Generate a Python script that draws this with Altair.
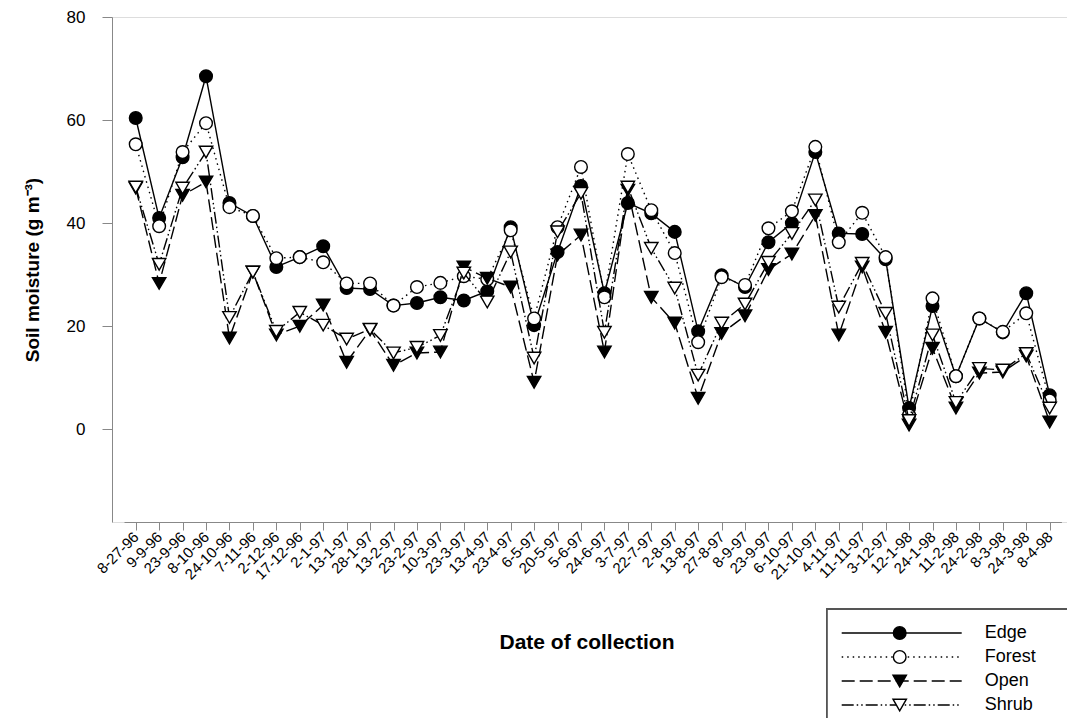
import altair as alt
import pandas as pd

dates = ["8-27-96", "9-9-96", "23-9-96", "8-10-96", "24-10-96", "7-11-96", "2-12-96",
         "17-12-96", "2-1-97", "13-1-97", "28-1-97", "13-2-97", "23-2-97", "10-3-97",
         "23-3-97", "13-4-97", "23-4-97", "6-5-97", "20-5-97", "5-6-97", "24-6-97",
         "3-7-97", "22-7-97", "2-8-97", "13-8-97", "27-8-97", "8-9-97", "23-9-97",
         "6-10-97", "21-10-97", "4-11-97", "11-11-97", "3-12-97", "12-1-98", "24-1-98",
         "11-2-98", "24-2-98", "8-3-98", "24-3-98", "8-4-98"]

series = ["Edge", "Forest", "Open", "Shrub"]

edge = [60.4, 41.0, 52.8, 68.5, 43.9, 41.4, 31.5, 33.4, 35.5, 27.4,
        27.2, 24.0, 24.5, 25.6, 25.0, 26.8, 39.2, 20.2, 34.4, 47.2,
        26.4, 43.9, 41.9, 38.3, 19.0, 29.9, 27.6, 36.3, 40.0, 53.8,
        38.0, 37.9, 33.0, 4.1, 23.9, 10.3, 21.5, 18.8, 26.4, 6.6]

forest = [55.3, 39.4, 53.8, 59.4, 43.1, 41.4, 33.2, 33.4, 32.4, 28.3,
          28.3, 24.0, 27.6, 28.4, 29.7, 29.1, 38.6, 21.5, 39.2, 50.9,
          25.6, 53.4, 42.5, 34.2, 16.9, 29.5, 28.0, 39.0, 42.3, 54.8,
          36.3, 42.0, 33.4, 2.7, 25.4, 10.3, 21.5, 18.9, 22.5, 5.6]

open_ = [46.8, 28.3, 45.4, 48.0, 17.7, 30.5, 18.3, 20.0, 24.1, 13.0,
         19.3, 12.4, 14.8, 15.0, 31.5, 29.3, 27.6, 9.1, 33.8, 37.7,
         15.0, 46.4, 25.6, 20.6, 6.0, 18.6, 22.0, 31.0, 34.0, 41.5,
         18.3, 31.5, 18.8, 0.8, 15.7, 4.1, 10.9, 11.1, 14.2, 1.4]

shrub = [47.0, 32.0, 46.8, 53.8, 21.7, 30.5, 19.0, 22.7, 20.2, 17.5,
         19.4, 14.8, 15.9, 18.2, 30.3, 24.7, 34.4, 13.8, 38.3, 45.8,
         18.8, 47.0, 35.1, 27.4, 10.5, 20.6, 24.3, 32.4, 38.0, 44.5,
         23.7, 32.2, 22.5, 1.7, 18.3, 5.2, 11.8, 11.5, 14.7, 4.1]

values = {"Edge": edge, "Forest": forest, "Open": open_, "Shrub": shrub}

rows = []
for s in series:
    for d, v in zip(dates, values[s]):
        rows.append({"date": d, "series": s, "value": v})
df = pd.DataFrame(rows)
leg_df = pd.DataFrame({"series": series})

FONT = "Liberation Sans"
styles = {
    "Edge": dict(dash=None, shape="circle", fill="black", size=160),
    "Forest": dict(dash=[1.5, 4], shape="circle", fill="white", size=160),
    "Open": dict(dash=[13, 5], shape="triangle-down", fill="black", size=180),
    "Shrub": dict(dash=[12, 3, 1.5, 3, 1.5, 3], shape="triangle-down", fill="white", size=180),
}

x_enc = alt.X(
    "date:N", sort=dates,
    scale=alt.Scale(type="point", range=[12, 949.4], padding=0.5),
    axis=alt.Axis(title="Date of collection", labelAngle=-45, labelAlign="right",
                  labelBaseline="middle", labelFontSize=15, labelPadding=4,
                  labelOverlap=False, tickSize=8, titleFontSize=21, grid=False,
                  titleFontWeight="bold", titleY=126, titleX=474.5,
                  titleBaseline="alphabetic"),
)
y_enc = alt.Y(
    "value:Q",
    scale=alt.Scale(domain=[-18, 80], nice=False, zero=False),
    axis=alt.Axis(title="Soil moisture (g m\u207b\u00b3)", values=[0, 20, 40, 60, 80],
                  labelFontSize=17, labelPadding=17, tickSize=10, titleFontSize=19,
                  titleFontWeight="bold", titleX=-70, grid=False),
)

data_layers = []
for s in series:
    st = styles[s]
    base = alt.Chart(df).transform_filter(alt.datum.series == s)
    line_kw = dict(color="black", strokeWidth=1.4)
    if st["dash"] is not None:
        line_kw["strokeDash"] = st["dash"]
    line = base.mark_line(**line_kw).encode(x=x_enc, y=y_enc)
    pts = base.mark_point(shape=st["shape"], filled=True, fill=st["fill"], stroke="black",
                          strokeWidth=1.4, size=st["size"], opacity=1).encode(x=x_enc, y=y_enc)
    data_layers += [line, pts]

ly = alt.Y("series:N", sort=series,
           scale=alt.Scale(domain=series, range=[604, 700]), axis=None)

legend_layers = [
    alt.Chart(leg_df).mark_rect(filled=False, stroke="#555555", strokeWidth=1.3).encode(
        x=alt.value(714.7), x2=alt.value(1200), y=alt.value(592), y2=alt.value(900))
]
for s in series:
    st = styles[s]
    base = alt.Chart(leg_df).transform_filter(alt.datum.series == s)
    rule_kw = dict(color="black", strokeWidth=1.4)
    if st["dash"] is not None:
        rule_kw["strokeDash"] = st["dash"]
    legend_layers.append(base.mark_rule(**rule_kw).encode(
        x=alt.value(729.7), x2=alt.value(849.7), y=ly))
    legend_layers.append(base.mark_point(shape=st["shape"], filled=True, fill=st["fill"],
                                         stroke="black", strokeWidth=1.4, size=st["size"],
                                         opacity=1).encode(x=alt.value(787.7), y=ly))
legend_layers.append(alt.Chart(leg_df).mark_text(align="left", baseline="middle", fontSize=18,
                                                  font=FONT, color="black").encode(
    x=alt.value(872.7), y=ly, text="series:N"))

chart = alt.layer(
    alt.layer(*data_layers),
    alt.layer(*legend_layers),
).resolve_scale(y="independent").properties(
    width=955, height=505, autosize="none",
    padding={"left": 104, "top": 9, "right": 0, "bottom": 196},
).configure_view(
    stroke="black", strokeWidth=1.5
).configure_axis(
    domainColor="black", domainWidth=1.5, tickColor="black", tickWidth=1.5,
    labelColor="black", titleColor="black", labelFont=FONT, titleFont=FONT, grid=False,
).configure(background="white")

chart.save("out.html", embed_options={"renderer": "svg", "actions": False})
